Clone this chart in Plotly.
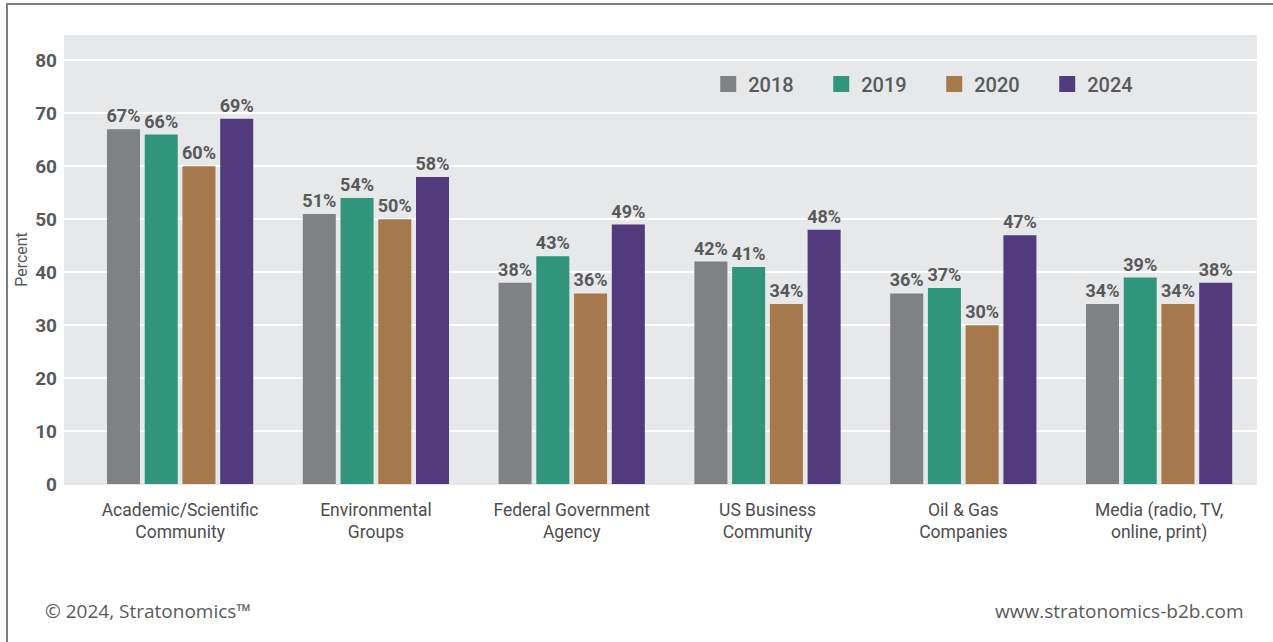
import plotly.graph_objects as go

categories = ["Academic/Scientific<br>Community", "Environmental<br>Groups",
              "Federal Government<br>Agency", "US Business<br>Community",
              "Oil & Gas<br>Companies", "Media (radio, TV,<br>online, print)"]
years = ["2018", "2019", "2020", "2024"]
v2018 = [67, 51, 38, 42, 36, 34]
v2019 = [66, 54, 43, 41, 37, 39]
v2020 = [60, 50, 36, 34, 30, 34]
v2024 = [69, 58, 49, 48, 47, 38]
series = [v2018, v2019, v2020, v2024]
colors = ["#808184", "#31957c", "#a6794d", "#523b7c"]
yticks = [0, 10, 20, 30, 40, 50, 60, 70, 80]

FONT = "Roboto, Liberation Sans, sans-serif"
TXT = "#58595b"

fig = go.Figure()
for name, vals, col in zip(years, series, colors):
    fig.add_trace(go.Bar(
        x=categories, y=vals, name=name, marker_color=col, marker_line_width=0,
        text=[f"{v}%" for v in vals], textposition="outside",
        textfont=dict(family=FONT, size=18, color=TXT, weight="bold"),
        cliponaxis=False, constraintext="none", showlegend=False,
    ))
for name, col in zip(years, colors):
    fig.add_trace(go.Scatter(
        x=[None], y=[None], mode="markers", name=name,
        marker=dict(symbol="square", size=16, color=col),
    ))

W, H = 1273, 642
L, R, T, B = 64, 16, 35, 158

fig.update_layout(
    width=W, height=H,
    margin=dict(l=L, r=R, t=T, b=B, pad=0),
    paper_bgcolor="white", plot_bgcolor="#e7e8ea",
    barmode="group", bargap=0.229, bargroupgap=0.125,
    font=dict(family=FONT, color=TXT),
    legend=dict(orientation="h", x=0.540, xanchor="left", y=0.891, yanchor="middle",
                bgcolor="rgba(0,0,0,0)", font=dict(family=FONT, size=20, color=TXT, weight=500),
                entrywidth=68, itemsizing="trace", traceorder="normal"),
    xaxis=dict(range=[-0.593, 5.5], showgrid=False, showline=False, ticks="",
               tickfont=dict(family=FONT, size=17.5, color="#4d4d4f"),
               ticklabelstandoff=13, fixedrange=True, automargin=False),
    yaxis=dict(range=[0, 84.8], tickvals=yticks, showgrid=True, gridcolor="white",
               gridwidth=2, zeroline=True, zerolinecolor="#e7e8ea", zerolinewidth=2,
               showline=False, ticks="", ticklabelstandoff=6, automargin=False,
               tickfont=dict(family=FONT, size=19, color=TXT, weight="bold"),
               title=dict(text="Percent", font=dict(family=FONT, size=16, color=TXT),
                          standoff=3)),
    shapes=[dict(type="rect", xref="paper", yref="paper",
                 x0=(7 - L) / (W - L - R), x1=1.05,
                 y0=-0.5, y1=(H - B - 4) / (H - T - B),
                 line=dict(color="#7f7f7f", width=2), fillcolor="rgba(0,0,0,0)", layer="below")],
    annotations=[
        dict(text="© 2024, Stratonomics™", xref="paper", yref="paper",
             x=(43 - L) / (W - L - R), xanchor="left",
             y=-(611 - (H - B)) / (H - T - B), yanchor="middle", showarrow=False,
             font=dict(family="Open Sans, sans-serif", size=19, color="#5a5a5a")),
        dict(text="www.stratonomics-b2b.com", xref="paper", yref="paper",
             x=(1245 - L) / (W - L - R), xanchor="right",
             y=-(611 - (H - B)) / (H - T - B), yanchor="middle", showarrow=False,
             font=dict(family="Open Sans, sans-serif", size=19, color="#5a5a5a")),
    ],
)

fig.write_html("out.html")
